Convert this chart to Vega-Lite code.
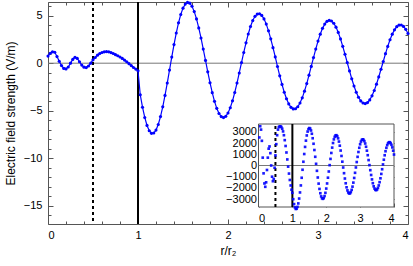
{
"$schema": "https://vega.github.io/schema/vega-lite/v6.json",
"width": 360, "height": 222,
"autosize": {"type": "none"},
"padding": {"left": 48, "top": 2, "right": 5, "bottom": 42},
"config": {"font": "Liberation Sans", "view": {"stroke": "#555", "strokeWidth": 1}, "axis": {"labelFontSize": 11, "labelColor": "black", "titleFontSize": 12, "titleFontWeight": "normal", "titleColor": "black", "grid": false, "tickColor": "#555", "domain": false}},
"datasets": {
"main": [{"x":0,"y":0.75},{"x":0.025,"y":1.05},{"x":0.05,"y":1.2},{"x":0.075,"y":1.15},{"x":0.1,"y":0.7},{"x":0.125,"y":0.2},{"x":0.15,"y":-0.25},{"x":0.175,"y":-0.55},{"x":0.2,"y":-0.6},{"x":0.225,"y":-0.4},{"x":0.25,"y":0},{"x":0.275,"y":0.4},{"x":0.3,"y":0.62},{"x":0.325,"y":0.5},{"x":0.35,"y":0.15},{"x":0.375,"y":-0.2},{"x":0.4,"y":-0.42},{"x":0.425,"y":-0.46},{"x":0.45,"y":-0.3},{"x":0.475,"y":0},{"x":0.5,"y":0.35},{"x":0.525,"y":0.6},{"x":0.55,"y":0.85},{"x":0.575,"y":1.02},{"x":0.6,"y":1.13},{"x":0.625,"y":1.2},{"x":0.65,"y":1.22},{"x":0.675,"y":1.2},{"x":0.7,"y":1.12},{"x":0.725,"y":1.02},{"x":0.75,"y":0.9},{"x":0.775,"y":0.78},{"x":0.8,"y":0.65},{"x":0.825,"y":0.5},{"x":0.85,"y":0.33},{"x":0.875,"y":0.15},{"x":0.9,"y":-0.05},{"x":0.925,"y":-0.25},{"x":0.95,"y":-0.45},{"x":0.975,"y":-0.62},{"x":1,"y":-0.8},
{"x":1.025,"y":-3.33},{"x":1.05,"y":-4.64},{"x":1.075,"y":-5.72},{"x":1.1,"y":-6.56},{"x":1.125,"y":-7.12},{"x":1.15,"y":-7.39},{"x":1.175,"y":-7.36},{"x":1.2,"y":-7.05},{"x":1.225,"y":-6.46},{"x":1.25,"y":-5.63},{"x":1.275,"y":-4.6},{"x":1.3,"y":-3.4},{"x":1.325,"y":-2.09},{"x":1.35,"y":-0.73},{"x":1.375,"y":0.64},{"x":1.4,"y":1.96},{"x":1.425,"y":3.18},{"x":1.45,"y":4.25},{"x":1.475,"y":5.13},{"x":1.5,"y":5.8},{"x":1.525,"y":6.23},{"x":1.55,"y":6.41},{"x":1.575,"y":6.33},{"x":1.6,"y":6.0},{"x":1.625,"y":5.44},{"x":1.65,"y":4.67},{"x":1.675,"y":3.72},{"x":1.7,"y":2.66},{"x":1.725,"y":1.49},{"x":1.75,"y":0.29},{"x":1.775,"y":-0.91},{"x":1.8,"y":-2.06},{"x":1.825,"y":-3.11},{"x":1.85,"y":-4.02},{"x":1.875,"y":-4.76},{"x":1.9,"y":-5.3},{"x":1.925,"y":-5.63},{"x":1.95,"y":-5.73},{"x":1.975,"y":-5.6},{"x":2,"y":-5.25},{"x":2.025,"y":-4.7},{"x":2.05,"y":-3.97},{"x":2.075,"y":-3.09},{"x":2.1,"y":-2.09},{"x":2.125,"y":-1.03},{"x":2.15,"y":0.06},{"x":2.175,"y":1.13},{"x":2.2,"y":2.15},{"x":2.225,"y":3.08},{"x":2.25,"y":3.87},{"x":2.275,"y":4.49},{"x":2.3,"y":4.94},{"x":2.325,"y":5.18},{"x":2.35,"y":5.21},{"x":2.375,"y":5.04},{"x":2.4,"y":4.67},{"x":2.425,"y":4.12},{"x":2.45,"y":3.41},{"x":2.475,"y":2.57},{"x":2.5,"y":1.64},{"x":2.525,"y":0.66},{"x":2.55,"y":-0.35},{"x":2.575,"y":-1.33},{"x":2.6,"y":-2.24},{"x":2.625,"y":-3.06},{"x":2.65,"y":-3.75},{"x":2.675,"y":-4.29},{"x":2.7,"y":-4.65},{"x":2.725,"y":-4.82},{"x":2.75,"y":-4.8},{"x":2.775,"y":-4.59},{"x":2.8,"y":-4.2},{"x":2.825,"y":-3.65},{"x":2.85,"y":-2.95},{"x":2.875,"y":-2.15},{"x":2.9,"y":-1.26},{"x":2.925,"y":-0.34},{"x":2.95,"y":0.59},{"x":2.975,"y":1.49},{"x":3,"y":2.33},{"x":3.025,"y":3.06},{"x":3.05,"y":3.67},{"x":3.075,"y":4.12},{"x":3.1,"y":4.41},{"x":3.125,"y":4.52},{"x":3.15,"y":4.45},{"x":3.175,"y":4.21},{"x":3.2,"y":3.8},{"x":3.225,"y":3.24},{"x":3.25,"y":2.56},{"x":3.275,"y":1.78},{"x":3.3,"y":0.94},{"x":3.325,"y":0.06},{"x":3.35,"y":-0.81},{"x":3.375,"y":-1.64},{"x":3.4,"y":-2.4},{"x":3.425,"y":-3.06},{"x":3.45,"y":-3.59},{"x":3.475,"y":-3.98},{"x":3.5,"y":-4.2},{"x":3.525,"y":-4.26},{"x":3.55,"y":-4.15},{"x":3.575,"y":-3.87},{"x":3.6,"y":-3.44},{"x":3.625,"y":-2.88},{"x":3.65,"y":-2.21},{"x":3.675,"y":-1.45},{"x":3.7,"y":-0.64},{"x":3.725,"y":0.18},{"x":3.75,"y":1.0},{"x":3.775,"y":1.77},{"x":3.8,"y":2.47},{"x":3.825,"y":3.06},{"x":3.85,"y":3.52},{"x":3.875,"y":3.85},{"x":3.9,"y":4.02},{"x":3.925,"y":4.03},{"x":3.95,"y":3.88},{"x":3.975,"y":3.57},{"x":4,"y":3.13}],
"inset": [{"xi":0.025,"yi":2500},{"xi":0.05,"yi":3500},{"xi":0.075,"yi":3200},{"xi":0.1,"yi":2200},{"xi":0.125,"yi":700},{"xi":0.15,"yi":-700},{"xi":0.175,"yi":-1600},{"xi":0.2,"yi":-1900},{"xi":0.225,"yi":-1500},{"xi":0.25,"yi":-400},{"xi":0.275,"yi":700},{"xi":0.3,"yi":1500},{"xi":0.325,"yi":1700},{"xi":0.35,"yi":1100},{"xi":0.375,"yi":0},{"xi":0.4,"yi":-1000},{"xi":0.425,"yi":-1400},{"xi":0.45,"yi":-1200},{"xi":0.475,"yi":-200},{"xi":0.5,"yi":900},{"xi":0.525,"yi":1900},{"xi":0.55,"yi":2700},{"xi":0.575,"yi":3200},{"xi":0.6,"yi":3420},{"xi":0.625,"yi":3490},{"xi":0.65,"yi":3490},{"xi":0.675,"yi":3430},{"xi":0.7,"yi":3280},{"xi":0.725,"yi":3040},{"xi":0.75,"yi":2700},{"xi":0.775,"yi":2260},{"xi":0.8,"yi":1740},{"xi":0.825,"yi":1160},{"xi":0.85,"yi":540},{"xi":0.875,"yi":-100},{"xi":0.9,"yi":-720},{"xi":0.925,"yi":-1290},{"xi":0.95,"yi":-1780},{"xi":0.975,"yi":-2160},
{"xi":1,"yi":-2434},{"xi":1.025,"yi":-3004},{"xi":1.05,"yi":-3442},{"xi":1.075,"yi":-3734},{"xi":1.1,"yi":-3873},{"xi":1.125,"yi":-3857},{"xi":1.15,"yi":-3690},{"xi":1.175,"yi":-3381},{"xi":1.2,"yi":-2946},{"xi":1.225,"yi":-2403},{"xi":1.25,"yi":-1777},{"xi":1.275,"yi":-1094},{"xi":1.3,"yi":-380},{"xi":1.325,"yi":334},{"xi":1.35,"yi":1023},{"xi":1.375,"yi":1658},{"xi":1.4,"yi":2216},{"xi":1.425,"yi":2678},{"xi":1.45,"yi":3025},{"xi":1.475,"yi":3248},{"xi":1.5,"yi":3338},{"xi":1.525,"yi":3295},{"xi":1.55,"yi":3122},{"xi":1.575,"yi":2830},{"xi":1.6,"yi":2430},{"xi":1.625,"yi":1938},{"xi":1.65,"yi":1381},{"xi":1.675,"yi":776},{"xi":1.7,"yi":150},{"xi":1.725,"yi":-474},{"xi":1.75,"yi":-1070},{"xi":1.775,"yi":-1615},{"xi":1.8,"yi":-2088},{"xi":1.825,"yi":-2473},{"xi":1.85,"yi":-2754},{"xi":1.875,"yi":-2923},{"xi":1.9,"yi":-2973},{"xi":1.925,"yi":-2907},{"xi":1.95,"yi":-2725},{"xi":1.975,"yi":-2437},{"xi":2,"yi":-2057},{"xi":2.025,"yi":-1601},{"xi":2.05,"yi":-1087},{"xi":2.075,"yi":-535},{"xi":2.1,"yi":31},{"xi":2.125,"yi":588},{"xi":2.15,"yi":1117},{"xi":2.175,"yi":1594},{"xi":2.2,"yi":2003},{"xi":2.225,"yi":2329},{"xi":2.25,"yi":2558},{"xi":2.275,"yi":2683},{"xi":2.3,"yi":2701},{"xi":2.325,"yi":2612},{"xi":2.35,"yi":2420},{"xi":2.375,"yi":2134},{"xi":2.4,"yi":1767},{"xi":2.425,"yi":1333},{"xi":2.45,"yi":851},{"xi":2.475,"yi":340},{"xi":2.5,"yi":-179},{"xi":2.525,"yi":-686},{"xi":2.55,"yi":-1161},{"xi":2.575,"yi":-1585},{"xi":2.6,"yi":-1943},{"xi":2.625,"yi":-2219},{"xi":2.65,"yi":-2405},{"xi":2.675,"yi":-2494},{"xi":2.7,"yi":-2483},{"xi":2.725,"yi":-2374},{"xi":2.75,"yi":-2171},{"xi":2.775,"yi":-1885},{"xi":2.8,"yi":-1526},{"xi":2.825,"yi":-1110},{"xi":2.85,"yi":-653},{"xi":2.875,"yi":-175},{"xi":2.9,"yi":307},{"xi":2.925,"yi":771},{"xi":2.95,"yi":1202},{"xi":2.975,"yi":1581},{"xi":3,"yi":1894},{"xi":3.025,"yi":2129},{"xi":3.05,"yi":2279},{"xi":3.075,"yi":2336},{"xi":3.1,"yi":2300},{"xi":3.125,"yi":2173},{"xi":3.15,"yi":1961},{"xi":3.175,"yi":1673},{"xi":3.2,"yi":1321},{"xi":3.225,"yi":918},{"xi":3.25,"yi":483},{"xi":3.275,"yi":32},{"xi":3.3,"yi":-417},{"xi":3.325,"yi":-846},{"xi":3.35,"yi":-1239},{"xi":3.375,"yi":-1578},{"xi":3.4,"yi":-1854},{"xi":3.425,"yi":-2053},{"xi":3.45,"yi":-2169},{"xi":3.475,"yi":-2199},{"xi":3.5,"yi":-2141},{"xi":3.525,"yi":-1998},{"xi":3.55,"yi":-1777},{"xi":3.575,"yi":-1487},{"xi":3.6,"yi":-1140},{"xi":3.625,"yi":-750},{"xi":3.65,"yi":-333},{"xi":3.675,"yi":95},{"xi":3.7,"yi":516},{"xi":3.725,"yi":913},{"xi":3.75,"yi":1272},{"xi":3.775,"yi":1577},{"xi":3.8,"yi":1818},{"xi":3.825,"yi":1986},{"xi":3.85,"yi":2073},{"xi":3.875,"yi":2077},{"xi":3.9,"yi":1999},{"xi":3.925,"yi":1842},{"xi":3.95,"yi":1612},{"xi":3.975,"yi":1320},{"xi":4,"yi":977}]
},
"layer": [
 {
  "resolve": {"axis": {"x": "independent", "y": "independent"}},
  "layer": [
   {"data": {"values": [{"z": 0}]},
    "mark": {"type": "rule", "color": "#777", "strokeWidth": 1},
    "encoding": {"y": {"field": "z", "type": "quantitative", "scale": {"domain": [-16.95, 6.45], "nice": false, "zero": false}, "axis": null}}},
   {"data": {"values": [{"r": 0.5}]},
    "mark": {"type": "rule", "color": "black", "strokeWidth": 2, "strokeDash": [3, 3]},
    "encoding": {"x": {"field": "r", "type": "quantitative", "scale": {"domain": [0, 4], "nice": false, "zero": false}, "axis": null}}},
   {"data": {"values": [{"r": 1}]},
    "mark": {"type": "rule", "color": "black", "strokeWidth": 2},
    "encoding": {"x": {"field": "r", "type": "quantitative", "axis": null}}},
   {"data": {"name": "main"},
    "mark": {"type": "line", "color": "#0000ff", "strokeWidth": 1.2, "point": {"filled": true, "size": 10, "color": "#0000ff"}},
    "encoding": {
     "x": {"field": "x", "type": "quantitative", "axis": {"orient": "bottom", "values": [0, 1, 2, 3, 4], "format": "d", "tickSize": -5, "labelPadding": 10, "title": "r/r₂", "titlePadding": 5}},
     "y": {"field": "y", "type": "quantitative", "axis": {"orient": "left", "values": [-15, -10, -5, 0, 5], "format": "d", "tickSize": -5, "labelPadding": 11, "title": "Electric field strength (V/m)", "titlePadding": 6}}}},
   {"data": {"values": []}, "mark": "point",
    "encoding": {
     "x": {"field": "x", "type": "quantitative", "axis": {"orient": "bottom", "values": [0.2,0.4,0.6,0.8,1.2,1.4,1.6,1.8,2.2,2.4,2.6,2.8,3.2,3.4,3.6,3.8], "labels": false, "tickSize": -3, "title": null}},
     "y": {"field": "y", "type": "quantitative", "axis": {"orient": "left", "values": [-16,-14,-13,-12,-11,-9,-8,-7,-6,-4,-3,-2,-1,1,2,3,4,6], "labels": false, "tickSize": -3, "title": null}}}},
   {"data": {"values": []}, "mark": "point",
    "encoding": {
     "x": {"field": "x", "type": "quantitative", "axis": {"orient": "top", "values": [0, 1, 2, 3, 4], "labels": false, "tickSize": -5, "title": null}},
     "y": {"field": "y", "type": "quantitative", "axis": {"orient": "right", "values": [-15, -10, -5, 0, 5], "labels": false, "tickSize": -5, "title": null}}}},
   {"data": {"values": []}, "mark": "point",
    "encoding": {
     "x": {"field": "x", "type": "quantitative", "axis": {"orient": "top", "values": [0.2,0.4,0.6,0.8,1.2,1.4,1.6,1.8,2.2,2.4,2.6,2.8,3.2,3.4,3.6,3.8], "labels": false, "tickSize": -3, "title": null}},
     "y": {"field": "y", "type": "quantitative", "axis": {"orient": "right", "values": [-16,-14,-13,-12,-11,-9,-8,-7,-6,-4,-3,-2,-1,1,2,3,4,6], "labels": false, "tickSize": -3, "title": null}}}}
  ]
 },
 {
  "resolve": {"axis": {"x": "independent", "y": "independent"}},
  "layer": [
   {"data": {"values": [{"a": 0, "b": 4, "c": -3700, "d": 3700}]},
    "mark": {"type": "rect", "fill": "white", "stroke": "#555", "strokeWidth": 1},
    "encoding": {
     "x": {"field": "a", "type": "quantitative", "scale": {"domain": [0, 4], "range": [210.5, 346], "nice": false, "zero": false}, "axis": null},
     "x2": {"field": "b"},
     "y": {"field": "c", "type": "quantitative", "scale": {"domain": [-3700, 3700], "range": [205, 122], "nice": false, "zero": false}, "axis": null},
     "y2": {"field": "d"}}},
   {"data": {"values": [{"a": 0, "b": 4, "z": 0}]},
    "mark": {"type": "rule", "color": "#777", "strokeWidth": 1},
    "encoding": {"x": {"field": "a", "type": "quantitative", "axis": null}, "x2": {"field": "b"}, "y": {"field": "z", "type": "quantitative", "axis": null}}},
   {"data": {"values": [{"r": 0.5, "c": -3700, "d": 3700}]},
    "mark": {"type": "rule", "color": "black", "strokeWidth": 2, "strokeDash": [3, 3]},
    "encoding": {"x": {"field": "r", "type": "quantitative", "axis": null}, "y": {"field": "c", "type": "quantitative", "axis": null}, "y2": {"field": "d"}}},
   {"data": {"values": [{"r": 1, "c": -3700, "d": 3700}]},
    "mark": {"type": "rule", "color": "black", "strokeWidth": 2},
    "encoding": {"x": {"field": "r", "type": "quantitative", "axis": null}, "y": {"field": "c", "type": "quantitative", "axis": null}, "y2": {"field": "d"}}},
   {"data": {"name": "inset"},
    "mark": {"type": "point", "shape": "square", "filled": true, "size": 7, "color": "#0000ff", "opacity": 0.9},
    "encoding": {
     "x": {"field": "xi", "type": "quantitative", "axis": {"orient": "bottom", "offset": -17, "values": [0, 1, 2, 3, 4], "format": "d", "tickSize": -4, "labelPadding": 9, "title": null}},
     "y": {"field": "yi", "type": "quantitative", "axis": {"orient": "left", "offset": -210.5, "values": [-3000, -2000, -1000, 0, 1000, 2000, 3000], "format": "d", "tickSize": -4, "labelPadding": 6, "title": null}}}},
   {"data": {"values": []}, "mark": "point",
    "encoding": {
     "x": {"field": "xi", "type": "quantitative", "axis": {"orient": "top", "offset": -122, "values": [0.2,0.4,0.6,0.8,1,1.2,1.4,1.6,1.8,2,2.2,2.4,2.6,2.8,3,3.2,3.4,3.6,3.8], "labels": false, "tickSize": -3, "title": null}},
     "y": {"field": "yi", "type": "quantitative", "axis": {"orient": "right", "offset": -14, "values": [-3000, -2000, -1000, 0, 1000, 2000, 3000], "labels": false, "tickSize": -3, "title": null}}}}
  ]
 }
],
"resolve": {"scale": {"x": "independent", "y": "independent"}, "axis": {"x": "independent", "y": "independent"}}
}
